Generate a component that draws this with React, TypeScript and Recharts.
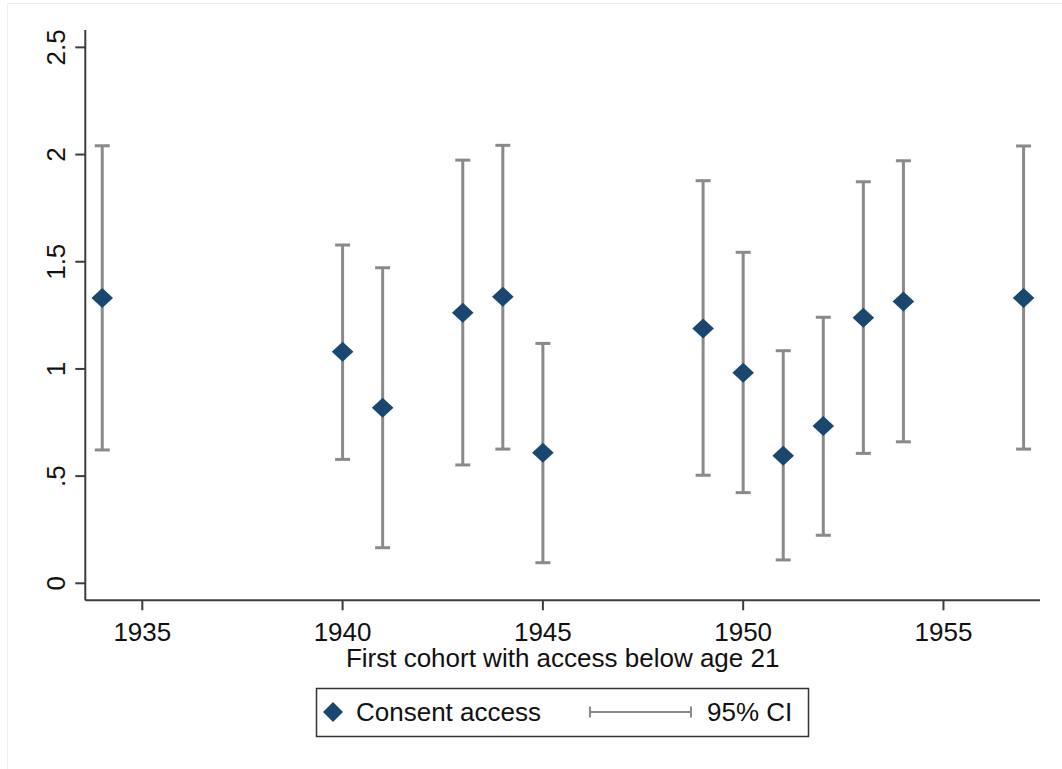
import React from "react";
import { ComposedChart, Scatter, XAxis, YAxis, ErrorBar, Label } from "recharts";

const years = [1934, 1940, 1941, 1943, 1944, 1945, 1949, 1950, 1951, 1952, 1953, 1954, 1957];
const estimates = [1.331, 1.08, 0.819, 1.262, 1.337, 0.609, 1.189, 0.982, 0.595, 0.734, 1.239, 1.315, 1.331];
const ciLow = [0.622, 0.578, 0.166, 0.552, 0.626, 0.096, 0.504, 0.423, 0.109, 0.224, 0.606, 0.66, 0.626];
const ciHigh = [2.041, 1.578, 1.472, 1.974, 2.043, 1.119, 1.878, 1.544, 1.085, 1.241, 1.873, 1.971, 2.04];

const xTicks = [1935, 1940, 1945, 1950, 1955];
const yTicks = [0, 0.5, 1, 1.5, 2, 2.5];
const xDomain = [1933.577, 1957.41];
const yDomain = [-0.0793, 2.581];

const xTitle = "First cohort with access below age 21";
const seriesName = "Consent access";
const ciName = "95% CI";

const NAVY = "#1a476f";
const GRAY = "#8a8a8a";
const AXIS = "#3c3c3c";
const FONT = "'Liberation Sans', Arial, sans-serif";
const FS = 26;

const data = years.map((year, i) => ({
  year,
  est: estimates[i],
  err: [estimates[i] - ciLow[i], ciHigh[i] - estimates[i]],
}));

const fmtY = (v: number) => {
  if (v === 0) return "0";
  const s = String(v);
  return s.startsWith("0.") ? s.slice(1) : s;
};

const Diamond = (props: any) => {
  const { cx, cy } = props;
  if (cx == null || cy == null) return null;
  const w = 10.8;
  const h = 10;
  return (
    <polygon
      points={`${cx - w},${cy} ${cx},${cy - h} ${cx + w},${cy} ${cx},${cy + h}`}
      fill={NAVY}
    />
  );
};

const Empty = () => null;

const YTick = (props: any) => {
  const { x, y, payload } = props;
  const bx = x - 8;
  return (
    <text
      x={bx}
      y={y}
      transform={`rotate(-90, ${bx}, ${y})`}
      textAnchor="middle"
      fontSize={FS}
      fontFamily={FONT}
      fill="#111"
    >
      {fmtY(payload.value)}
    </text>
  );
};

const XTick = (props: any) => {
  const { x, y, payload } = props;
  return (
    <text x={x} y={y} dy="0.71em" textAnchor="middle" fontSize={FS} fontFamily={FONT} fill="#111">
      {payload.value}
    </text>
  );
};

const LegendBox = () => (
  <svg
    width={1062}
    height={769}
    style={{ position: "absolute", left: 0, top: 0, pointerEvents: "none" }}
  >
    <line x1={7.5} y1={3.5} x2={1062} y2={3.5} stroke="#efefef" strokeWidth={1} />
    <line x1={7.5} y1={3.5} x2={7.5} y2={769} stroke="#efefef" strokeWidth={1} />
    <rect x={316.5} y={688.5} width={492} height={48} fill="#fff" stroke="#333" strokeWidth={1.5} />
    <polygon points="323,712 333,702 343,712 333,722" fill={NAVY} />
    <text x={356} y={721} fontSize={FS} fontFamily={FONT} fill="#111">
      {seriesName}
    </text>
    <line x1={590} y1={712} x2={691} y2={712} stroke={GRAY} strokeWidth={2} />
    <line x1={590} y1={706.5} x2={590} y2={717.5} stroke={GRAY} strokeWidth={2} />
    <line x1={691} y1={706.5} x2={691} y2={717.5} stroke={GRAY} strokeWidth={2} />
    <text x={707} y={721} fontSize={FS} fontFamily={FONT} fill="#111">
      {ciName}
    </text>
  </svg>
);

export default function App() {
  return (
    <div
      style={{
        position: "absolute",
        left: 0,
        top: 0,
        width: 1062,
        height: 769,
        background: "#fff",
        overflow: "hidden",
      }}
    >
      <ComposedChart
        width={1062}
        height={769}
        data={data}
        margin={{ top: 30, right: 22, bottom: 108.7, left: 0 }}
      >
        <XAxis
          type="number"
          dataKey="year"
          domain={xDomain}
          ticks={xTicks}
          allowDataOverflow
          height={60}
          tickSize={10}
          tickMargin={12.5}
          tick={<XTick />}
          axisLine={{ stroke: AXIS, strokeWidth: 2 }}
          tickLine={{ stroke: AXIS, strokeWidth: 2 }}
        >
          <Label
            value={xTitle}
            position="insideTop"
            offset={48.5}
            fontSize={FS}
            fontFamily={FONT}
            fill="#111"
          />
        </XAxis>
        <YAxis
          type="number"
          domain={yDomain}
          ticks={yTicks}
          allowDataOverflow
          width={85.3}
          tickSize={10}
          tickMargin={2}
          tick={<YTick />}
          axisLine={{ stroke: AXIS, strokeWidth: 2 }}
          tickLine={{ stroke: AXIS, strokeWidth: 2 }}
        />
        <Scatter dataKey="est" shape={<Diamond />} isAnimationActive={false} />
        <Scatter dataKey="est" shape={<Empty />} isAnimationActive={false}>
          <ErrorBar
            dataKey="err"
            direction="y"
            width={7.5}
            stroke={GRAY}
            strokeWidth={3}
            isAnimationActive={false}
          />
        </Scatter>
      </ComposedChart>
      <LegendBox />
    </div>
  );
}
